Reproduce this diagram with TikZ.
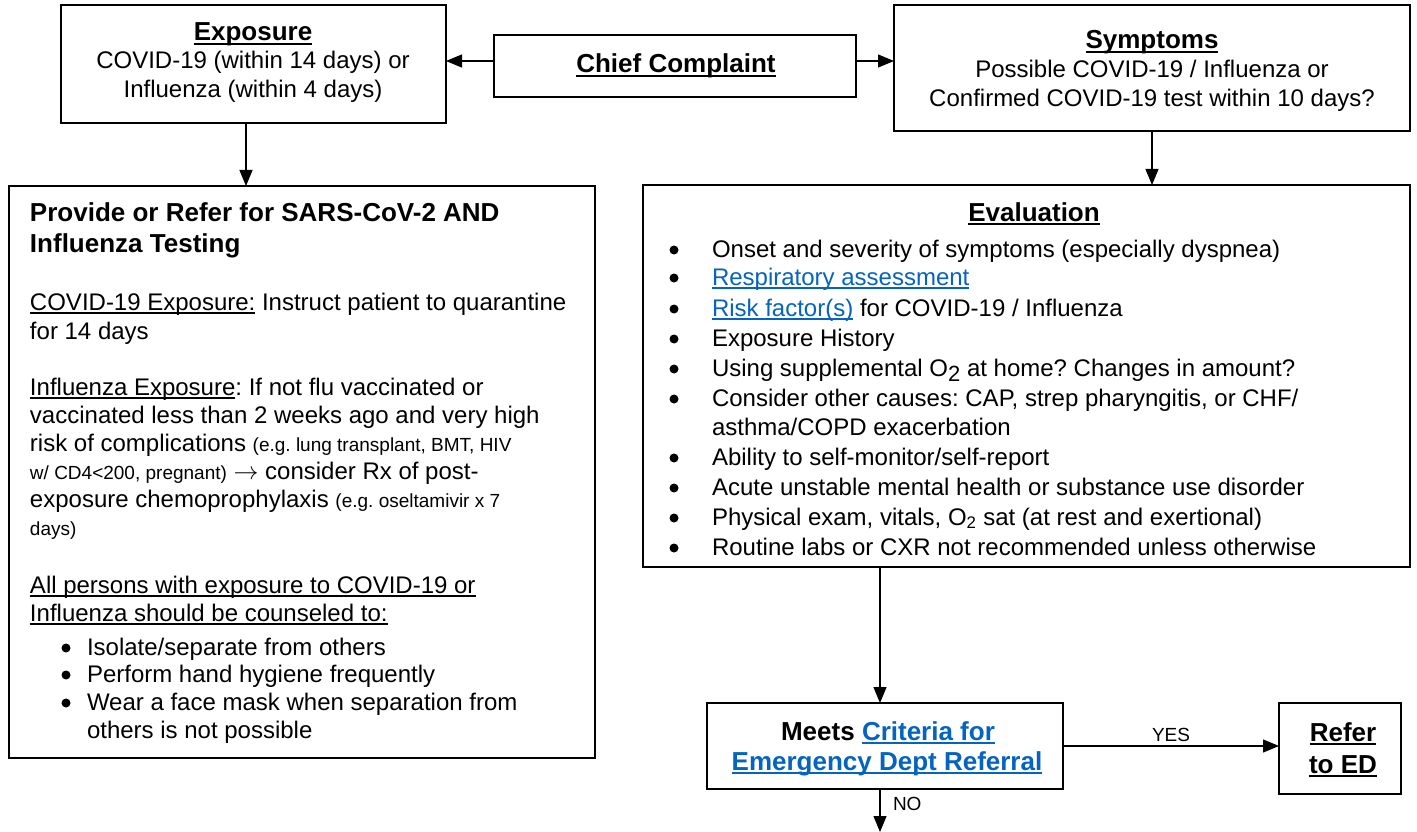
\documentclass[tikz,border=0pt]{standalone}
\usepackage{fontspec}
\setmainfont{Liberation Sans}
\usetikzlibrary{arrows.meta}
\definecolor{linkblue}{HTML}{0563C1}
\newcommand{\ulin}[2][1.4]{\setbox0\hbox{#2}\leavevmode\rlap{\rule[-3.8pt]{\wd0}{#1pt}}\box0\relax}
\newcommand{\smtxt}{\fontsize{19}{23}\selectfont}
\frenchspacing
\begin{document}
\begin{tikzpicture}[x=1pt,y=-1pt,
  bx/.style={draw, line width=1.2pt, inner sep=0pt, outer sep=0pt},
  arr/.style={-{Triangle[length=16pt,width=13pt]}, line width=1.2pt},
  tx/.style={inner sep=0pt, outer sep=0pt, font=\fontsize{24}{29}\selectfont},
  bul/.style={circle, fill=black, inner sep=0pt, minimum size=9pt},
  hd/.style={inner sep=0pt, outer sep=0pt, font=\fontsize{26}{31}\selectfont\bfseries},
  lb/.style={inner sep=0pt, outer sep=0pt, font=\fontsize{19}{23}\selectfont}]
\useasboundingbox[fill=white] (0,0) rectangle (1417,832);

% boxes
\node[bx, minimum width=385pt, minimum height=118pt] (expo) at (253.5,64) {};
\node[bx, minimum width=362pt, minimum height=62pt] (cc) at (675,66) {};
\node[bx, minimum width=516pt, minimum height=126pt] (symp) at (1152,68) {};
\node[bx, minimum width=586pt, minimum height=572pt] (left) at (302,472) {};
\node[bx, minimum width=767pt, minimum height=382pt] (eval) at (1026.5,376) {};
\node[bx, minimum width=356pt, minimum height=86pt] (meets) at (885,746) {};
\node[bx, minimum width=122pt, minimum height=91pt] (refer) at (1340,748.5) {};

% Exposure text
\node[hd, anchor=base] (expoT) at (253,41) {\ulin[2]{Exposure}};
\node[tx, anchor=base] (expo1) at (253,69) {COVID-19 (within 14 days) or};
\node[tx, anchor=base] (expo2) at (253,98) {Influenza (within 4 days)};

% Chief complaint
\node[hd, anchor=base] (ccT) at (676,73) {\ulin[2]{Chief Complaint}};

% Symptoms
\node[hd, anchor=base] (sympT) at (1152,49) {\ulin[2]{Symptoms}};
\node[tx, anchor=base] (symp1) at (1152,78) {Possible COVID-19 / Influenza or};
\node[tx, anchor=base] (symp2) at (1152,107) {Confirmed COVID-19 test within 10 days?};

% Left box
\node[hd, anchor=base west] (lT1) at (30,222) {Provide or Refer for SARS-CoV-2 AND};
\node[hd, anchor=base west] (lT2) at (30,252) {Influenza Testing};
\node[tx, anchor=base west] (l1) at (30,310) {\ulin{COVID-19 Exposure:} Instruct patient to quarantine};
\node[tx, anchor=base west] (l2) at (30,339) {for 14 days};
\node[tx, anchor=base west] (l3) at (30,395) {\ulin{Influenza Exposure}: If not flu vaccinated or};
\node[tx, anchor=base west] (l4) at (30,423) {vaccinated less than 2 weeks ago and very high};
\node[tx, anchor=base west] (l5) at (30,451) {risk of complications {\smtxt (e.g. lung transplant, BMT, HIV}};
\node[tx, anchor=base west] (l6) at (30,479) {{\smtxt w/ CD4<200, pregnant)} $\rightarrow$ consider Rx of post-};
\node[tx, anchor=base west] (l7) at (30,507) {exposure chemoprophylaxis {\smtxt (e.g. oseltamivir x 7}};
\node[tx, anchor=base west] (l8) at (30,535) {{\smtxt days)}};
\node[tx, anchor=base west] (l9) at (30,593) {\ulin{All persons with exposure to COVID-19 or}};
\node[tx, anchor=base west] (l10) at (30,621) {\ulin{Influenza should be counseled to:}};
\foreach \yy [count=\i] in {655,682,710}
  \node[bul] (lb\i) at (66,\yy-7) {};
\node[tx, anchor=base west] (l11) at (87,655) {Isolate/separate from others};
\node[tx, anchor=base west] (l12) at (87,682) {Perform hand hygiene frequently};
\node[tx, anchor=base west] (l13) at (87,710) {Wear a face mask when separation from};
\node[tx, anchor=base west] (l14) at (87,738) {others is not possible};

% Evaluation
\node[hd, anchor=base] (evalT) at (1034,221) {\ulin[2]{Evaluation}};
\foreach \yy [count=\i] in {257,285,316,346,376,406,465,495,525,555}
  \node[bul] (eb\i) at (674,\yy-7) {};
\node[tx, anchor=base west] (e1) at (712,257) {Onset and severity of symptoms (especially dyspnea)};
\node[tx, anchor=base west] (e2) at (712,285) {{\color{linkblue}\ulin{Respiratory assessment}}};
\node[tx, anchor=base west] (e3) at (712,316) {{\color{linkblue}\ulin{Risk factor(s)}} for COVID-19 / Influenza};
\node[tx, anchor=base west] (e4) at (712,346) {Exposure History};
\node[tx, anchor=base west] (e5) at (712,376) {Using supplemental O\raisebox{-5pt}{\fontsize{22}{22}\selectfont 2} at home? Changes in amount?};
\node[tx, anchor=base west] (e6) at (712,406) {Consider other causes: CAP, strep pharyngitis, or CHF/};
\node[tx, anchor=base west] (e7) at (712,435) {asthma/COPD exacerbation};
\node[tx, anchor=base west] (e8) at (712,465) {Ability to self-monitor/self-report};
\node[tx, anchor=base west] (e9) at (712,495) {Acute unstable mental health or substance use disorder};
\node[tx, anchor=base west] (e10) at (712,525) {Physical exam, vitals, O\textsubscript{2} sat (at rest and exertional)};
\node[tx, anchor=base west] (e11) at (712,555) {Routine labs or CXR not recommended unless otherwise};

% Meets
\node[hd, anchor=base] (m1) at (888,740) {Meets {\color{linkblue}\ulin[1.8]{Criteria for}}};
\node[hd, anchor=base] (m2) at (887,770) {{\color{linkblue}\ulin[1.8]{Emergency Dept Referral}}};

% Refer
\node[hd, anchor=base] (r1) at (1343,741) {\ulin[2]{Refer}};
\node[hd, anchor=base] (r2) at (1343,773) {\ulin[2]{to ED}};

% connectors
\draw[arr] ([yshift=5pt]cc.west) -- ([yshift=5pt]cc.west -| expo.east);
\draw[arr] ([yshift=5pt]cc.east) -- ([yshift=5pt]cc.east -| symp.west);
\draw[arr] ([xshift=-7.5pt]expo.south) -- ([xshift=-7.5pt]expo.south |- left.north);
\draw[arr] (symp.south) -- (symp.south |- eval.north);
\draw[arr] ([xshift=-5pt]meets.north |- eval.south) -- ([xshift=-5pt]meets.north);
\draw[arr] (meets.east) -- (meets.east -| refer.west) node[lb, midway, anchor=base, yshift=5pt] (yes) {YES};
\coordinate (noend) at (880,832);
\draw[arr] ([xshift=-5pt]meets.south) -- (noend);
\node[lb, anchor=base west] (no) at (893,810) {NO};
\end{tikzpicture}
\end{document}
